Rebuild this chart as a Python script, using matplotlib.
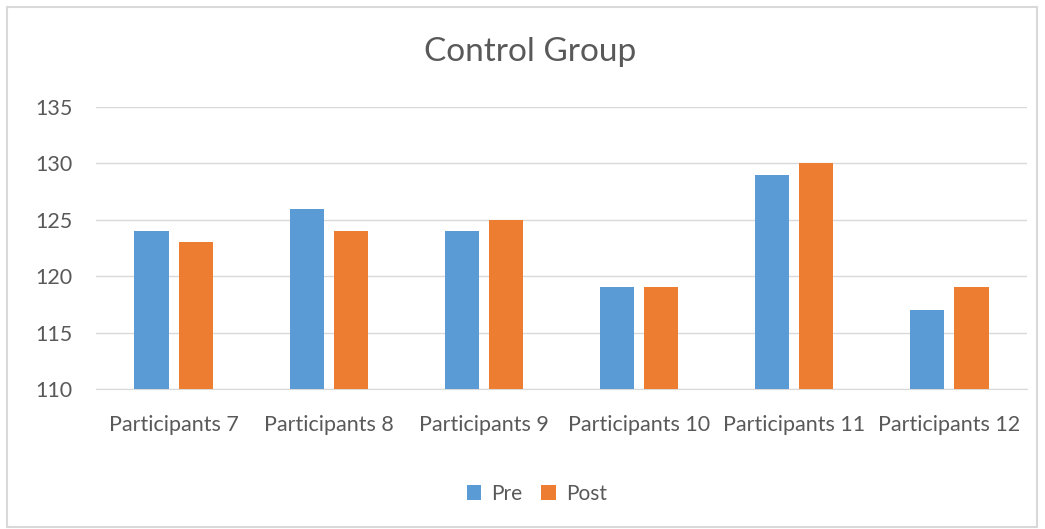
import numpy as np
import matplotlib.pyplot as plt
from matplotlib.patches import Rectangle

categories = ["Participants 7", "Participants 8", "Participants 9",
              "Participants 10", "Participants 11", "Participants 12"]
pre = [124, 126, 124, 119, 129, 117]
post = [123, 124, 125, 119, 130, 119]
yticks = [110, 115, 120, 125, 130, 135]

plt.rcParams['font.family'] = ['Lato', 'DejaVu Sans']

W, H = 1045, 529
fig = plt.figure(figsize=(W / 100, H / 100), dpi=100)
fig.patch.set_facecolor("white")

# outer chart border
fig.add_artist(Rectangle((7 / W, 1 - 527 / H), 1030 / W, 520 / H,
                         transform=fig.transFigure, fill=False,
                         edgecolor="#d9d9d9", linewidth=1.5))

ax = fig.add_axes([96 / W, 1 - 389 / H, (1027 - 96) / W, (389 - 107) / H])

x = np.arange(len(categories))
ax.bar(x - 0.142, pre, width=0.22, color="#5b9bd5", label="Pre", zorder=3)
ax.bar(x + 0.142, post, width=0.22, color="#ed7d31", label="Post", zorder=3)

ax.set_xlim(-0.5, len(categories) - 0.5)
ax.set_ylim(110, 135)
ax.set_yticks(yticks)
ax.set_xticks(x)
ax.set_xticklabels(categories)
ax.yaxis.grid(True, color="#d9d9d9", linewidth=1, zorder=0)
ax.tick_params(axis="both", length=0, labelsize=15.5, labelcolor="#595959")
ax.tick_params(axis="x", pad=19)
ax.tick_params(axis="y", pad=44)
for lbl in ax.get_yticklabels():
    lbl.set_horizontalalignment("left")
for s in ["top", "right", "left"]:
    ax.spines[s].set_visible(False)
ax.spines["bottom"].set_color("#d9d9d9")

fig.text(530 / W, 1 - 52 / H, "Control Group", ha="center", va="center",
         fontsize=24, color="#595959")

fig.legend(loc="center", bbox_to_anchor=(537 / W, 1 - 494 / H), ncol=2,
           frameon=False, fontsize=15, labelcolor="#595959",
           handlelength=0.7, handleheight=0.7, handletextpad=0.5,
           columnspacing=0.9)

fig.savefig("out.png", dpi=100)
